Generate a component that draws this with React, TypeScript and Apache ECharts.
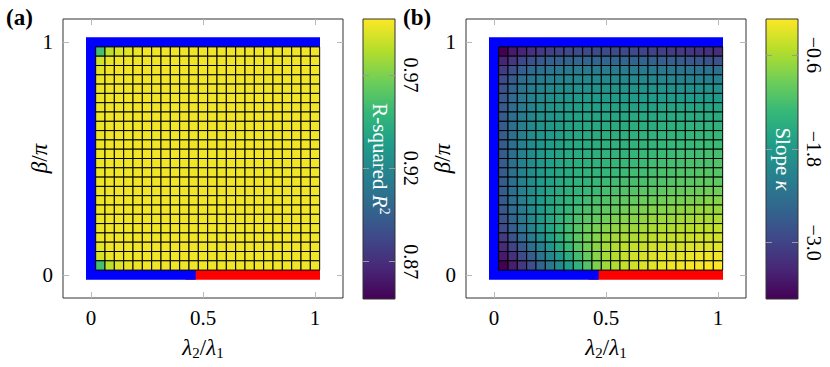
import React, { useEffect, useRef } from "react";
import * as echarts from "echarts";

const FONT = "Liberation Serif";
const TICK = "#b8b8b8";

// lambda_2 / lambda_1 values of the cell centres (left to right)
const lambdaRatio = [0.0417, 0.0833, 0.125, 0.1667, 0.2083, 0.25, 0.2917, 0.3333, 0.375, 0.4167, 0.4583, 0.5, 0.5417, 0.5833, 0.625, 0.6667, 0.7083, 0.75, 0.7917, 0.8333, 0.875, 0.9167, 0.9583, 1.0];
// beta / pi values of the cell centres (top row first)
const betaOverPi = [0.96, 0.92, 0.88, 0.84, 0.8, 0.76, 0.72, 0.68, 0.64, 0.6, 0.56, 0.52, 0.48, 0.44, 0.4, 0.36, 0.32, 0.28, 0.24, 0.2, 0.16, 0.12, 0.08, 0.04];

const xTicks = [0, 0.5, 1];
const yTicks = [0, 1];
const r2Ticks = [0.87, 0.92, 0.97];
const slopeTicks = [-3.0, -1.8, -0.6];
const r2Range = [0.85, 1.0];
const slopeRange = [-3.72, -0.14];

const viridis = ["#440154", "#482878", "#3e4a89", "#31688e", "#26828e", "#1f9e89", "#35b779", "#6ece58", "#b5de2b", "#fde725"];

// boundary strips: beta = 0 / beta = pi / lambda2 = 0 (blue) and beta = 0 for large ratio (red)
const blueBoundary = [[0.445, 0], [0, 0], [0, 1], [1, 1]];
const redBoundary = [[0.445, 0], [1, 0]];

// R-squared, rows from top (beta/pi = 0.96) to bottom (beta/pi = 0.04)
const rSquaredRows = [
  [0.955, 0.985, 0.992, 0.994, 0.996, 0.997, 0.997, 0.997, 0.997, 0.997, 0.997, 0.997, 0.997, 0.997, 0.997, 0.997, 0.997, 0.997, 0.997, 0.997, 0.997, 0.997, 0.997, 0.997],
  [0.99, 0.996, 0.997, 0.997, 0.997, 0.997, 0.997, 0.997, 0.997, 0.997, 0.997, 0.997, 0.997, 0.997, 0.997, 0.997, 0.997, 0.997, 0.997, 0.997, 0.997, 0.997, 0.997, 0.997],
  [0.994, 0.997, 0.997, 0.997, 0.997, 0.997, 0.997, 0.997, 0.997, 0.997, 0.997, 0.997, 0.997, 0.997, 0.997, 0.997, 0.997, 0.997, 0.997, 0.997, 0.997, 0.997, 0.997, 0.997],
  [0.996, 0.997, 0.997, 0.997, 0.997, 0.997, 0.997, 0.997, 0.997, 0.997, 0.997, 0.997, 0.997, 0.997, 0.997, 0.997, 0.997, 0.997, 0.997, 0.997, 0.997, 0.997, 0.997, 0.997],
  [0.996, 0.997, 0.997, 0.997, 0.997, 0.997, 0.997, 0.997, 0.997, 0.997, 0.997, 0.997, 0.997, 0.997, 0.997, 0.997, 0.997, 0.997, 0.997, 0.997, 0.997, 0.997, 0.997, 0.997],
  [0.996, 0.997, 0.997, 0.997, 0.997, 0.997, 0.997, 0.997, 0.997, 0.997, 0.997, 0.997, 0.997, 0.997, 0.997, 0.997, 0.997, 0.997, 0.997, 0.997, 0.997, 0.997, 0.997, 0.997],
  [0.996, 0.997, 0.997, 0.997, 0.997, 0.997, 0.997, 0.997, 0.997, 0.997, 0.997, 0.997, 0.997, 0.997, 0.997, 0.997, 0.997, 0.997, 0.997, 0.997, 0.997, 0.997, 0.997, 0.997],
  [0.996, 0.997, 0.997, 0.997, 0.997, 0.997, 0.997, 0.997, 0.997, 0.997, 0.997, 0.997, 0.997, 0.997, 0.997, 0.997, 0.997, 0.997, 0.997, 0.997, 0.997, 0.997, 0.997, 0.997],
  [0.996, 0.997, 0.997, 0.997, 0.997, 0.997, 0.997, 0.997, 0.997, 0.997, 0.997, 0.997, 0.997, 0.997, 0.997, 0.997, 0.997, 0.997, 0.997, 0.997, 0.997, 0.997, 0.997, 0.997],
  [0.996, 0.997, 0.997, 0.997, 0.997, 0.997, 0.997, 0.997, 0.997, 0.997, 0.997, 0.997, 0.997, 0.997, 0.997, 0.997, 0.997, 0.997, 0.997, 0.997, 0.997, 0.997, 0.997, 0.997],
  [0.996, 0.997, 0.997, 0.997, 0.997, 0.997, 0.997, 0.997, 0.997, 0.997, 0.997, 0.997, 0.997, 0.997, 0.997, 0.997, 0.997, 0.997, 0.997, 0.997, 0.997, 0.997, 0.997, 0.997],
  [0.996, 0.997, 0.997, 0.997, 0.997, 0.997, 0.997, 0.997, 0.997, 0.997, 0.997, 0.997, 0.997, 0.997, 0.997, 0.997, 0.997, 0.997, 0.997, 0.997, 0.997, 0.997, 0.997, 0.997],
  [0.996, 0.997, 0.997, 0.997, 0.997, 0.997, 0.997, 0.997, 0.997, 0.997, 0.997, 0.997, 0.997, 0.997, 0.997, 0.997, 0.997, 0.997, 0.997, 0.997, 0.997, 0.997, 0.997, 0.997],
  [0.996, 0.997, 0.997, 0.997, 0.997, 0.997, 0.997, 0.997, 0.997, 0.997, 0.997, 0.997, 0.997, 0.997, 0.997, 0.997, 0.997, 0.997, 0.997, 0.997, 0.997, 0.997, 0.997, 0.997],
  [0.996, 0.997, 0.997, 0.997, 0.997, 0.997, 0.997, 0.997, 0.997, 0.997, 0.997, 0.997, 0.997, 0.997, 0.997, 0.997, 0.997, 0.997, 0.997, 0.997, 0.997, 0.997, 0.997, 0.997],
  [0.996, 0.997, 0.997, 0.997, 0.997, 0.997, 0.997, 0.997, 0.997, 0.997, 0.997, 0.997, 0.997, 0.997, 0.997, 0.997, 0.997, 0.997, 0.997, 0.997, 0.997, 0.997, 0.997, 0.997],
  [0.996, 0.997, 0.997, 0.997, 0.997, 0.997, 0.997, 0.997, 0.997, 0.997, 0.997, 0.997, 0.997, 0.997, 0.997, 0.997, 0.997, 0.997, 0.997, 0.997, 0.997, 0.997, 0.997, 0.997],
  [0.996, 0.997, 0.997, 0.997, 0.997, 0.997, 0.997, 0.997, 0.997, 0.997, 0.997, 0.997, 0.997, 0.997, 0.997, 0.997, 0.997, 0.997, 0.997, 0.997, 0.997, 0.997, 0.997, 0.997],
  [0.996, 0.997, 0.997, 0.997, 0.997, 0.997, 0.997, 0.997, 0.997, 0.997, 0.997, 0.997, 0.997, 0.997, 0.997, 0.997, 0.997, 0.997, 0.997, 0.997, 0.997, 0.997, 0.997, 0.997],
  [0.996, 0.997, 0.997, 0.997, 0.997, 0.997, 0.997, 0.997, 0.997, 0.997, 0.997, 0.997, 0.997, 0.997, 0.997, 0.997, 0.997, 0.997, 0.997, 0.997, 0.997, 0.997, 0.997, 0.997],
  [0.996, 0.997, 0.997, 0.997, 0.997, 0.997, 0.997, 0.997, 0.997, 0.997, 0.997, 0.997, 0.997, 0.997, 0.997, 0.997, 0.997, 0.997, 0.997, 0.997, 0.997, 0.997, 0.997, 0.997],
  [0.994, 0.997, 0.997, 0.997, 0.997, 0.997, 0.997, 0.997, 0.997, 0.997, 0.997, 0.997, 0.997, 0.997, 0.997, 0.997, 0.997, 0.997, 0.997, 0.997, 0.997, 0.997, 0.997, 0.997],
  [0.99, 0.996, 0.997, 0.997, 0.997, 0.997, 0.997, 0.997, 0.997, 0.997, 0.997, 0.997, 0.997, 0.997, 0.997, 0.997, 0.997, 0.997, 0.997, 0.997, 0.997, 0.997, 0.997, 0.997],
  [0.955, 0.985, 0.993, 0.995, 0.996, 0.997, 0.997, 0.997, 0.997, 0.997, 0.997, 0.997, 0.997, 0.997, 0.997, 0.997, 0.997, 0.997, 0.997, 0.997, 0.997, 0.997, 0.997, 0.997],
];

// Slope kappa, rows from top (beta/pi = 0.96) to bottom (beta/pi = 0.04)
const slopeRows = [
  [-3.72, -3.47, -3.36, -3.22, -3.11, -3.04, -2.97, -2.93, -2.9, -2.9, -2.9, -2.9, -2.9, -2.93, -2.93, -2.97, -3.0, -3.04, -3.08, -3.11, -3.15, -3.18, -3.22, -3.25],
  [-3.36, -3.15, -2.97, -2.83, -2.72, -2.65, -2.61, -2.57, -2.54, -2.54, -2.54, -2.54, -2.54, -2.54, -2.57, -2.57, -2.61, -2.65, -2.65, -2.68, -2.72, -2.75, -2.79, -2.83],
  [-3.11, -2.86, -2.65, -2.5, -2.4, -2.32, -2.29, -2.25, -2.22, -2.22, -2.22, -2.22, -2.22, -2.22, -2.22, -2.25, -2.25, -2.29, -2.29, -2.32, -2.32, -2.36, -2.36, -2.4],
  [-2.93, -2.68, -2.47, -2.32, -2.22, -2.14, -2.11, -2.07, -2.07, -2.04, -2.04, -2.04, -2.04, -2.04, -2.04, -2.04, -2.07, -2.07, -2.07, -2.11, -2.11, -2.11, -2.14, -2.14],
  [-2.83, -2.57, -2.36, -2.22, -2.11, -2.04, -2.0, -1.97, -1.93, -1.93, -1.89, -1.89, -1.89, -1.89, -1.89, -1.89, -1.89, -1.89, -1.93, -1.93, -1.93, -1.93, -1.93, -1.93],
  [-2.75, -2.5, -2.29, -2.14, -2.04, -1.97, -1.89, -1.86, -1.82, -1.82, -1.79, -1.79, -1.79, -1.79, -1.79, -1.79, -1.79, -1.79, -1.79, -1.79, -1.79, -1.79, -1.79, -1.79],
  [-2.72, -2.47, -2.25, -2.11, -1.97, -1.89, -1.82, -1.79, -1.75, -1.72, -1.72, -1.68, -1.68, -1.68, -1.68, -1.68, -1.68, -1.64, -1.64, -1.64, -1.64, -1.64, -1.64, -1.64],
  [-2.68, -2.43, -2.22, -2.07, -1.93, -1.86, -1.79, -1.72, -1.68, -1.64, -1.64, -1.61, -1.61, -1.61, -1.57, -1.57, -1.57, -1.57, -1.54, -1.54, -1.54, -1.54, -1.54, -1.54],
  [-2.68, -2.4, -2.18, -2.04, -1.89, -1.82, -1.75, -1.68, -1.64, -1.61, -1.57, -1.57, -1.54, -1.54, -1.5, -1.5, -1.5, -1.46, -1.46, -1.46, -1.43, -1.43, -1.43, -1.43],
  [-2.68, -2.4, -2.18, -2.0, -1.86, -1.79, -1.72, -1.64, -1.61, -1.57, -1.54, -1.5, -1.5, -1.46, -1.46, -1.43, -1.43, -1.39, -1.39, -1.39, -1.36, -1.36, -1.36, -1.36],
  [-2.68, -2.4, -2.14, -2.0, -1.86, -1.75, -1.68, -1.61, -1.57, -1.54, -1.5, -1.46, -1.43, -1.43, -1.39, -1.39, -1.36, -1.36, -1.32, -1.32, -1.32, -1.29, -1.29, -1.29],
  [-2.68, -2.4, -2.14, -1.97, -1.82, -1.72, -1.64, -1.57, -1.54, -1.5, -1.46, -1.43, -1.39, -1.39, -1.36, -1.32, -1.32, -1.29, -1.29, -1.25, -1.25, -1.25, -1.21, -1.21],
  [-2.68, -2.4, -2.14, -1.97, -1.82, -1.72, -1.61, -1.54, -1.5, -1.46, -1.43, -1.39, -1.36, -1.32, -1.32, -1.29, -1.25, -1.25, -1.21, -1.21, -1.18, -1.18, -1.18, -1.14],
  [-2.68, -2.4, -2.14, -1.97, -1.82, -1.68, -1.61, -1.54, -1.46, -1.43, -1.39, -1.36, -1.32, -1.29, -1.25, -1.25, -1.21, -1.18, -1.18, -1.14, -1.14, -1.11, -1.11, -1.11],
  [-2.68, -2.4, -2.14, -1.97, -1.79, -1.68, -1.57, -1.5, -1.43, -1.39, -1.32, -1.29, -1.25, -1.21, -1.21, -1.18, -1.14, -1.14, -1.11, -1.07, -1.07, -1.04, -1.04, -1.04],
  [-2.68, -2.4, -2.14, -1.97, -1.79, -1.64, -1.54, -1.46, -1.39, -1.32, -1.29, -1.21, -1.18, -1.14, -1.11, -1.07, -1.07, -1.04, -1.0, -1.0, -0.96, -0.96, -0.93, -0.93],
  [-2.72, -2.43, -2.18, -1.97, -1.79, -1.64, -1.5, -1.39, -1.32, -1.25, -1.18, -1.14, -1.07, -1.04, -1.0, -0.96, -0.96, -0.93, -0.89, -0.89, -0.86, -0.86, -0.82, -0.82],
  [-2.75, -2.47, -2.22, -2.0, -1.79, -1.61, -1.46, -1.36, -1.25, -1.18, -1.11, -1.04, -1.0, -0.93, -0.89, -0.86, -0.82, -0.82, -0.79, -0.75, -0.75, -0.71, -0.71, -0.71],
  [-2.83, -2.54, -2.29, -2.04, -1.82, -1.61, -1.43, -1.29, -1.18, -1.07, -1.0, -0.93, -0.86, -0.82, -0.79, -0.75, -0.71, -0.68, -0.68, -0.64, -0.64, -0.61, -0.61, -0.57],
  [-2.93, -2.65, -2.36, -2.11, -1.86, -1.64, -1.43, -1.25, -1.11, -0.96, -0.89, -0.82, -0.75, -0.71, -0.68, -0.64, -0.61, -0.57, -0.57, -0.54, -0.54, -0.5, -0.5, -0.46],
  [-3.11, -2.79, -2.5, -2.22, -1.97, -1.72, -1.46, -1.25, -1.07, -0.93, -0.82, -0.71, -0.64, -0.61, -0.57, -0.54, -0.5, -0.46, -0.46, -0.43, -0.43, -0.39, -0.39, -0.39],
  [-3.29, -3.0, -2.72, -2.43, -2.14, -1.86, -1.57, -1.32, -1.11, -0.93, -0.79, -0.64, -0.57, -0.5, -0.46, -0.43, -0.39, -0.39, -0.36, -0.36, -0.32, -0.32, -0.32, -0.28],
  [-3.47, -3.22, -2.93, -2.65, -2.36, -2.07, -1.79, -1.5, -1.25, -1.0, -0.79, -0.64, -0.54, -0.46, -0.39, -0.36, -0.32, -0.29, -0.29, -0.25, -0.25, -0.21, -0.21, -0.21],
  [-3.72, -3.43, -3.15, -2.86, -2.57, -2.29, -2.0, -1.72, -1.43, -1.14, -0.86, -0.68, -0.57, -0.46, -0.39, -0.32, -0.29, -0.25, -0.21, -0.21, -0.18, -0.18, -0.14, -0.14],
];

const cellW = Math.abs(lambdaRatio[1] - lambdaRatio[0]);
const cellH = Math.abs(betaOverPi[0] - betaOverPi[1]);

function toCells(rows: number[][]) {
  const out: number[][] = [];
  rows.forEach((row, i) => row.forEach((v, c) => out.push([lambdaRatio[c], betaOverPi[i], v])));
  return out;
}

function renderCell(_params: any, api: any) {
  const x = api.value(0);
  const y = api.value(1);
  const a = api.coord([x - cellW / 2, y + cellH / 2]);
  const b = api.coord([x + cellW / 2, y - cellH / 2]);
  return {
    type: "rect",
    shape: { x: a[0], y: a[1], width: b[0] - a[0], height: b[1] - a[1] },
    style: { fill: api.visual("color"), stroke: "#000", lineWidth: 1 },
  };
}

function renderBar(_params: any, api: any) {
  const a = api.coord([0, api.value(2)]);
  const b = api.coord([1, api.value(1)]);
  return {
    type: "rect",
    shape: { x: a[0], y: a[1], width: b[0] - a[0], height: b[1] - a[1] },
    style: {
      fill: new echarts.graphic.LinearGradient(
        0, 1, 0, 0,
        viridis.map((c, k) => ({ offset: k / (viridis.length - 1), color: c }))
      ),
    },
  };
}

const mathRich = {
  i: { fontFamily: FONT, fontStyle: "italic", fontSize: 23, lineHeight: 26, color: "#000" },
  n: { fontFamily: FONT, fontSize: 23, lineHeight: 26, color: "#000" },
  s: { fontFamily: FONT, fontSize: 15, lineHeight: 15, verticalAlign: "bottom", color: "#000" },
};

function mainAxes(gi: number, xName: string, yName: string) {
  const common = { type: "value", gridIndex: gi, splitLine: { show: false } };
  const tick = (vals: number[]) => ({ show: true, inside: true, length: 6, customValues: vals, lineStyle: { color: TICK, width: 1 } });
  const x = [
    {
      ...common, min: -0.125, max: 1.125, position: "bottom",
      axisLine: { show: false, onZero: false }, axisTick: tick(xTicks),
      axisLabel: { show: true, customValues: xTicks, margin: 9, fontFamily: FONT, fontSize: 21, color: "#000" },
      name: xName, nameLocation: "middle", nameGap: 36, nameMoveOverlap: false, nameTextStyle: { rich: mathRich },
    },
    { ...common, min: -0.125, max: 1.125, position: "top", axisLine: { show: false, onZero: false }, axisTick: tick(xTicks), axisLabel: { show: false } },
  ];
  const y = [
    {
      ...common, min: -0.1, max: 1.1, position: "left",
      axisLine: { show: false, onZero: false }, axisTick: tick(yTicks),
      axisLabel: { show: true, customValues: yTicks, margin: 10, fontFamily: FONT, fontSize: 21, color: "#000" },
      name: yName, nameLocation: "middle", nameGap: 11, nameRotate: 90, nameMoveOverlap: false, nameTextStyle: { rich: mathRich },
    },
    { ...common, min: -0.1, max: 1.1, position: "right", axisLine: { show: false, onZero: false }, axisTick: tick(yTicks), axisLabel: { show: false } },
  ];
  return { x, y };
}

function barAxes(gi: number, range: number[], ticks: number[], fmt: (v: number) => string, name: string) {
  const common = { type: "value", gridIndex: gi, min: range[0], max: range[1], splitLine: { show: false }, z: 6 };
  const tick = { show: true, inside: true, length: 6, customValues: ticks, lineStyle: { color: "#9a9a9a", width: 1 } };
  return [
    { ...common, position: "left", axisLine: { show: false, onZero: false }, axisTick: tick, axisLabel: { show: false } },
    {
      ...common, position: "right", axisLine: { show: false, onZero: false }, axisTick: tick,
      axisLabel: { show: true, customValues: ticks, rotate: -90, margin: 6, fontFamily: FONT, fontSize: 20, color: "#000", formatter: fmt },
      name, nameLocation: "middle", nameRotate: -90, nameGap: -27, nameMoveOverlap: false,
      nameTextStyle: {
        rich: {
          n: { fontFamily: FONT, fontSize: 21, lineHeight: 23, color: "#fff" },
          i: { fontFamily: FONT, fontStyle: "italic", fontSize: 21, lineHeight: 23, color: "#fff" },
          p: { fontFamily: FONT, fontSize: 14, lineHeight: 14, verticalAlign: "top", color: "#fff" },
        },
      },
    },
  ];
}

export default function App() {
  const ref = useRef<HTMLDivElement>(null);

  useEffect(() => {
    if (!ref.current) return;
    const chart = echarts.init(ref.current, null, { renderer: "svg" });

    const axA = mainAxes(0, "{i|λ}{s|2}{n|/}{i|λ}{s|1}", "{i|β}{n|/}{i|π}");
    const axB = mainAxes(1, "{i|λ}{s|2}{n|/}{i|λ}{s|1}", "{i|β}{n|/}{i|π}");
    const barA = barAxes(2, r2Range, r2Ticks, (v: number) => v.toFixed(2), "{n|R-squared }{i|R}{p|2}");
    const barB = barAxes(3, slopeRange, slopeTicks, (v: number) => (v < 0 ? "\u2212" : "") + Math.abs(v).toFixed(1), "{n|Slope }{i|κ}");
    const hiddenX = (gi: number) => ({ type: "value", gridIndex: gi, min: 0, max: 1, show: false });

    const frame = { show: true, borderColor: "#333", borderWidth: 1, backgroundColor: "transparent" };

    const lineSeries = (xi: number, yi: number, data: number[][], color: string, z: number) => ({
      type: "line", xAxisIndex: xi, yAxisIndex: yi, data, showSymbol: false, symbol: "none", z,
      lineStyle: { color, width: 10, cap: "square", join: "miter" }, silent: true,
    });

    const option: any = {
      animation: false,
      textStyle: { fontFamily: FONT },
      title: [
        { text: "(a)", left: 6, top: 6, padding: 0, textStyle: { fontFamily: FONT, fontWeight: "bold", fontSize: 23, color: "#000" } },
        { text: "(b)", left: 403, top: 6, padding: 0, textStyle: { fontFamily: FONT, fontWeight: "bold", fontSize: 23, color: "#000" } },
      ],
      grid: [
        { left: 63, top: 19, width: 280, height: 279, ...frame },
        { left: 466, top: 19, width: 280, height: 279, ...frame },
        { left: 363, top: 19, width: 32, height: 280, ...frame, z: 6 },
        { left: 766, top: 19, width: 32, height: 280, ...frame, z: 6 },
      ],
      xAxis: [...axA.x, ...axB.x, hiddenX(2), hiddenX(3)],
      yAxis: [...axA.y, ...axB.y, ...barA, ...barB],
      visualMap: [
        { show: false, type: "continuous", seriesIndex: 2, dimension: 2, min: r2Range[0], max: r2Range[1], inRange: { color: viridis } },
        { show: false, type: "continuous", seriesIndex: 5, dimension: 2, min: slopeRange[0], max: slopeRange[1], inRange: { color: viridis } },
      ],
      series: [
        lineSeries(0, 0, redBoundary, "#ff0000", 1),
        lineSeries(0, 0, blueBoundary, "#0000ff", 2),
        { type: "custom", xAxisIndex: 0, yAxisIndex: 0, renderItem: renderCell, data: toCells(rSquaredRows), encode: { x: 0, y: 1 }, z: 3, silent: true },
        lineSeries(2, 2, redBoundary, "#ff0000", 1),
        lineSeries(2, 2, blueBoundary, "#0000ff", 2),
        { type: "custom", xAxisIndex: 2, yAxisIndex: 2, renderItem: renderCell, data: toCells(slopeRows), encode: { x: 0, y: 1 }, z: 3, silent: true },
        { type: "custom", xAxisIndex: 4, yAxisIndex: 5, renderItem: renderBar, data: [[0, r2Range[0], r2Range[1]]], encode: { x: 0, y: 1 }, z: 2, silent: true },
        { type: "custom", xAxisIndex: 5, yAxisIndex: 7, renderItem: renderBar, data: [[0, slopeRange[0], slopeRange[1]]], encode: { x: 0, y: 1 }, z: 2, silent: true },
      ],
    };

    chart.setOption(option);
    return () => chart.dispose();
  }, []);

  return <div ref={ref} style={{ position: "fixed", left: 0, top: 0, width: 830, height: 367, background: "#fff" }} />;
}
